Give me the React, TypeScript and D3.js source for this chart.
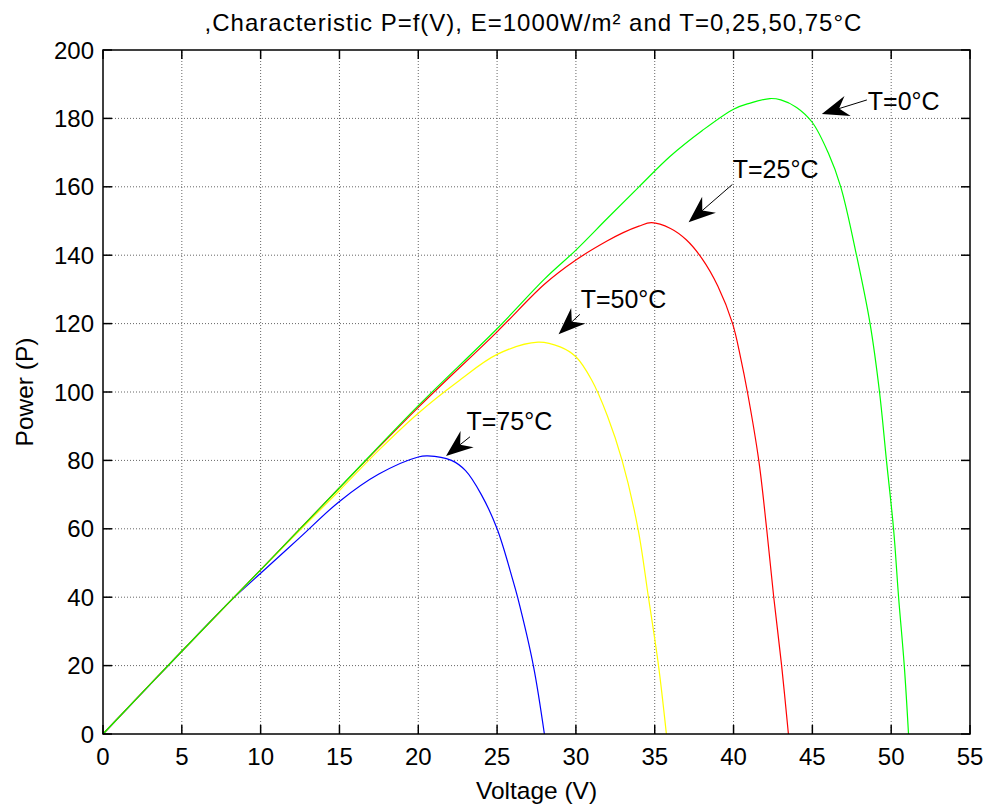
import React, { useEffect, useRef } from 'react'
import * as d3 from 'd3'

// axis ticks
const xTicks = [0, 5, 10, 15, 20, 25, 30, 35, 40, 45, 50, 55]
const yTicks = [0, 20, 40, 60, 80, 100, 120, 140, 160, 180, 200]

// T = 0°C (green)
const t0Volt = [0, 5, 10, 15, 20, 25, 28, 30, 32, 34, 36, 38, 40, 41, 42.3, 43, 44, 45, 46, 46.8, 47.8, 48.66, 49.26, 49.7, 50.15, 50.47, 50.83, 51.1]
const t0Power = [0, 24.2, 48, 72, 96, 118.5, 133, 141.5, 150.8, 160, 169, 176.4, 182.7, 184.4, 185.8, 185.4, 183.2, 178.8, 170, 160, 140, 120, 100, 80, 60, 40, 20, 0]

// T = 25°C (red)
const t25Volt = [0, 5, 10, 15, 20, 25, 28, 30, 32, 33, 34, 34.8, 36, 37, 38, 39, 39.94, 40.45, 40.88, 41.6, 42.1, 42.55, 43.05, 43.48]
const t25Power = [0, 24.2, 48, 72, 95.5, 117.6, 131.5, 138.6, 144.2, 146.6, 148.5, 149.5, 147.8, 144.5, 139, 131, 120, 110, 100, 80, 60, 40, 20, 0]

// T = 50°C (yellow)
const t50Volt = [0, 5, 10, 15, 17.5, 20, 22.5, 25, 27.6, 29, 30, 31, 32, 32.93, 33.94, 34.6, 35.24, 35.74]
const t50Power = [0, 24.2, 48, 71.2, 83, 93.8, 103, 111, 114.6, 113.2, 110.3, 103.5, 93, 80, 60, 40, 20, 0]

// T = 75°C (blue)
const t75Volt = [0, 5, 8, 10, 12.5, 15, 17.5, 20, 20.6, 22.1, 23, 24, 25, 26, 26.3, 27.3, 28]
const t75Power = [0, 24.2, 38.5, 47, 57.5, 68, 76, 81, 81.3, 80, 77, 70, 60, 45, 40, 20, 0]

// annotation labels: text position, arrow tail, arrow tip (data units)
const labelText = ['T=0°C', 'T=25°C', 'T=50°C', 'T=75°C']
const labelPos = [[48.52, 182.5], [39.95, 162.6], [30.3, 124.5], [23.06, 88.9]]
const arrowTail = [[48.46, 185.4], [39.93, 160.7], [30.25, 122.7], [23.28, 86.9]]
const arrowTip = [[45.6, 181.3], [37.15, 149.6], [28.9, 116.9], [21.76, 81.3]]

const font = 'Liberation Sans, Arial, Helvetica, sans-serif'

export default function App() {
  const ref = useRef<SVGSVGElement>(null)

  useEffect(() => {
    const svg = d3.select(ref.current)
    svg.selectAll('*').remove()

    const W = 987, H = 807
    const m = { left: 103, top: 50, right: 17, bottom: 73 }
    const x = d3.scaleLinear().domain([0, 55]).range([m.left, W - m.right])
    const y = d3.scaleLinear().domain([0, 200]).range([H - m.bottom, m.top])
    const [x0, x1] = x.range()
    const [y0, y1] = y.range()

    svg.append('rect').attr('width', W).attr('height', H).attr('fill', '#fff')

    // grid
    const grid = svg.append('g').attr('stroke', '#666').attr('stroke-width', 1).attr('stroke-dasharray', '1,2')
    grid.selectAll('.gx').data(xTicks.slice(1, -1)).enter().append('line')
      .attr('x1', d => x(d)).attr('x2', d => x(d)).attr('y1', y0).attr('y2', y1)
    grid.selectAll('.gy').data(yTicks.slice(1, -1)).enter().append('line')
      .attr('y1', d => y(d)).attr('y2', d => y(d)).attr('x1', x0).attr('x2', x1)

    // curves
    const series = [
      { v: t75Volt, p: t75Power, c: '#0000ff' },
      { v: t50Volt, p: t50Power, c: '#ffff00' },
      { v: t25Volt, p: t25Power, c: '#ff0000' },
      { v: t0Volt, p: t0Power, c: '#00ff00' },
    ]
    const line = d3.line<number[]>()
      .x(d => d[0]).y(d => d[1])
      .curve(d3.curveCatmullRom.alpha(0.5))
    series.forEach(s => {
      const pts = s.v.map((v, i) => [x(v), y(s.p[i])])
      svg.append('path').attr('d', line(pts)).attr('fill', 'none')
        .attr('stroke', s.c).attr('stroke-width', 1.2)
    })

    // box + ticks
    const tl = 9
    const ax = svg.append('g').attr('stroke', '#000').attr('stroke-width', 1.5)
    ax.append('rect').attr('x', x0).attr('y', y1).attr('width', x1 - x0).attr('height', y0 - y1).attr('fill', 'none')
    xTicks.forEach(t => {
      ax.append('line').attr('x1', x(t)).attr('x2', x(t)).attr('y1', y0).attr('y2', y0 - tl)
      ax.append('line').attr('x1', x(t)).attr('x2', x(t)).attr('y1', y1).attr('y2', y1 + tl)
    })
    yTicks.forEach(t => {
      ax.append('line').attr('y1', y(t)).attr('y2', y(t)).attr('x1', x0).attr('x2', x0 + tl)
      ax.append('line').attr('y1', y(t)).attr('y2', y(t)).attr('x1', x1).attr('x2', x1 - tl)
    })

    // tick labels
    svg.selectAll('.xl').data(xTicks).enter().append('text')
      .attr('x', d => x(d)).attr('y', y0 + 31).attr('text-anchor', 'middle')
      .attr('font-family', font).attr('font-size', 24).text(d => d)
    svg.selectAll('.yl').data(yTicks).enter().append('text')
      .attr('x', x0 - 9).attr('y', d => y(d) + 8.5).attr('text-anchor', 'end')
      .attr('font-family', font).attr('font-size', 24).text(d => d)

    // title and axis labels
    svg.append('text').attr('x', (x0 + x1) / 2 - 3).attr('y', 31).attr('text-anchor', 'middle')
      .attr('font-family', font).attr('font-size', 24).attr('letter-spacing', 1)
      .text(',Characteristic P=f(V), E=1000W/m² and T=0,25,50,75°C')
    svg.append('text').attr('x', (x0 + x1) / 2).attr('y', 799).attr('text-anchor', 'middle')
      .attr('font-family', font).attr('font-size', 24.5).text('Voltage (V)')
    svg.append('text').attr('transform', `translate(33,${(y0 + y1) / 2}) rotate(-90)`).attr('text-anchor', 'middle')
      .attr('font-family', font).attr('font-size', 24.5).text('Power (P)')

    // annotations
    labelText.forEach((t, i) => {
      svg.append('text').attr('x', x(labelPos[i][0])).attr('y', y(labelPos[i][1]))
        .attr('font-family', font).attr('font-size', 25).text(t)
      const tx = x(arrowTail[i][0]), ty = y(arrowTail[i][1])
      const px = x(arrowTip[i][0]), py = y(arrowTip[i][1])
      const len = Math.hypot(tx - px, ty - py)
      const ux = (tx - px) / len, uy = (ty - py) / len
      const nx = -uy, ny = ux
      const L = 27, hw = 10.5
      svg.append('line').attr('x1', tx).attr('y1', ty).attr('x2', px + ux * L * 0.6).attr('y2', py + uy * L * 0.6)
        .attr('stroke', '#000').attr('stroke-width', 1)
      const head = [
        [px, py],
        [px + ux * L + nx * hw, py + uy * L + ny * hw],
        [px + ux * L * 0.67, py + uy * L * 0.67],
        [px + ux * L - nx * hw, py + uy * L - ny * hw],
      ]
      svg.append('polygon').attr('points', head.map(p => p.join(',')).join(' ')).attr('fill', '#000')
    })
  }, [])

  return (
    <div style={{ position: 'absolute', left: 0, top: 0 }}>
      <svg ref={ref} width={987} height={807} style={{ display: 'block' }} />
    </div>
  )
}
